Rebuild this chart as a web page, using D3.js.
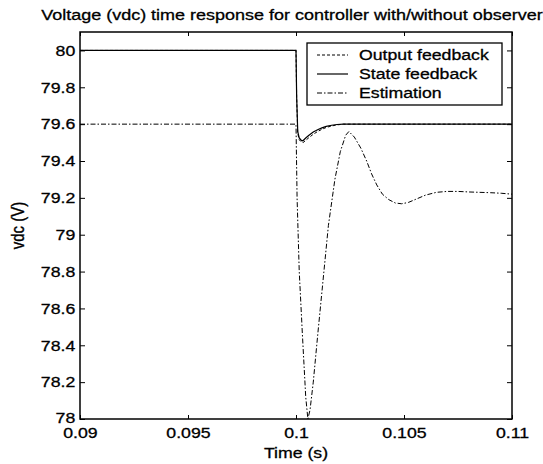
<!DOCTYPE html>
<html>
<head>
<meta charset="utf-8">
<script src="https://cdn.jsdelivr.net/npm/d3@7"></script>
<style>
  body { margin: 0; background: #fff; }
  svg { display: block; }
  text { font-family: "Liberation Sans", Arial, sans-serif; fill: #000; stroke: #000; stroke-width: 0.3px; }
</style>
</head>
<body>
<div id="chart"></div>
<script>
// [time (s), vdc (V)]
const outputFeedback = [
  [0.09, 80], [0.1, 80], [0.10003, 79.75], [0.10008, 79.55], [0.10015, 79.515],
  [0.10025, 79.503], [0.10033, 79.5], [0.10045, 79.512], [0.1006, 79.527],
  [0.1008, 79.545], [0.101, 79.56], [0.1012, 79.572], [0.1014, 79.582],
  [0.10165, 79.59], [0.1019, 79.596], [0.1022, 79.6], [0.11, 79.6]
];
const stateFeedback = [
  [0.09, 80], [0.1, 80], [0.10003, 79.75], [0.10008, 79.56], [0.10015, 79.525],
  [0.10025, 79.512], [0.10032, 79.51], [0.10045, 79.525], [0.1006, 79.54],
  [0.1008, 79.557], [0.101, 79.57], [0.1012, 79.58], [0.1014, 79.588],
  [0.10165, 79.594], [0.1019, 79.598], [0.1022, 79.6], [0.11, 79.6]
];
const estimation = [
  [0.09, 79.6], [0.1, 79.6], [0.10005, 79.2], [0.10015, 78.8], [0.1003, 78.45],
  [0.10045, 78.12], [0.10055, 78.0], [0.10065, 78.05], [0.1008, 78.2],
  [0.101, 78.45], [0.10125, 78.75], [0.1015, 79.05], [0.1018, 79.3],
  [0.10205, 79.45], [0.1023, 79.54], [0.10245, 79.56], [0.1027, 79.53],
  [0.103, 79.47], [0.10327, 79.4], [0.1035, 79.33], [0.10374, 79.27],
  [0.104, 79.22], [0.1043, 79.19], [0.1046, 79.172], [0.10489, 79.168],
  [0.1052, 79.175], [0.1056, 79.195], [0.106, 79.215], [0.1065, 79.23],
  [0.107, 79.235], [0.1075, 79.235], [0.108, 79.232], [0.1085, 79.23],
  [0.109, 79.228], [0.1095, 79.225], [0.11, 79.22]
];
const xTicks = [0.09, 0.095, 0.1, 0.105, 0.11];
const yTicks = [78, 78.2, 78.4, 78.6, 78.8, 79, 79.2, 79.4, 79.6, 79.8, 80];
const seriesNames = ['Output feedback', 'State feedback', 'Estimation'];

const width = 543;
const height = 464;
const margin = { top: 32, right: 31, bottom: 45, left: 80 };
const sx = 1.18; // the scanned figure is stretched sideways, text included
const fontSize = 15;

const svg = d3.select('#chart').append('svg').attr('width', width).attr('height', height);
const x = d3.scaleLinear().domain([0.09, 0.11]).range([margin.left, width - margin.right]);
const y = d3.scaleLinear().domain([78, 80.1]).range([height - margin.bottom, margin.top]);

function stretch(sel) {
  sel.attr('transform', `scale(${sx},1)`).style('font-size', `${fontSize}px`);
}

// axes: matlab style, ticks inside on all four sides
const axisB = svg.append('g').attr('transform', `translate(0,${y.range()[0]})`)
  .call(d3.axisBottom(x).tickValues(xTicks).tickSizeInner(-4).tickSizeOuter(0).tickPadding(9).tickFormat((d) => String(d)));
const axisT = svg.append('g').attr('transform', `translate(0,${y.range()[1]})`)
  .call(d3.axisTop(x).tickValues(xTicks).tickSizeInner(-4).tickSizeOuter(0).tickFormat(''));
const axisL = svg.append('g').attr('transform', `translate(${x.range()[0]},0)`)
  .call(d3.axisLeft(y).tickValues(yTicks).tickSizeInner(-5).tickSizeOuter(0).tickPadding(4).tickFormat((d) => String(+d.toFixed(1))));
const axisR = svg.append('g').attr('transform', `translate(${x.range()[1]},0)`)
  .call(d3.axisRight(y).tickValues(yTicks).tickSizeInner(-5).tickSizeOuter(0).tickFormat(''));
[axisB, axisT, axisL, axisR].forEach((a) => {
  a.select('.domain').remove();
  a.selectAll('line').attr('stroke', '#000');
  a.selectAll('text').attr('fill', '#000').call(stretch);
});
axisB.selectAll('text').attr('dy', '0.68em');
// the lowest y label sits a touch higher so it clears 0.09
axisL.selectAll('text').filter((d) => d === 78).attr('dy', '0.2em');

const line = d3.line().x((d) => x(d[0])).y((d) => y(d[1]));
const styles = [
  { data: outputFeedback, dash: '3,2', w: 1 },
  { data: stateFeedback, dash: null, w: 1.2 },
  { data: estimation, dash: '5,2,1.5,2', w: 1 }
];
const plot = svg.append('g');
styles.forEach((s) => {
  plot.append('path').datum(s.data)
    .attr('d', line)
    .attr('fill', 'none')
    .attr('stroke', '#000')
    .attr('stroke-width', s.w)
    .attr('stroke-dasharray', s.dash);
});

svg.append('rect')
  .attr('x', x.range()[0]).attr('y', y.range()[1])
  .attr('width', x.range()[1] - x.range()[0]).attr('height', y.range()[0] - y.range()[1])
  .attr('fill', 'none').attr('stroke', '#000').attr('stroke-width', 1.5);

// legend
const lg = svg.append('g').attr('transform', 'translate(307,43)');
lg.append('rect').attr('width', 195).attr('height', 62).attr('fill', '#fff').attr('stroke', '#000').attr('stroke-width', 1.3);
seriesNames.forEach((name, i) => {
  const ry = 12 + i * 19;
  lg.append('line').attr('x1', 10).attr('x2', 41).attr('y1', ry).attr('y2', ry)
    .attr('stroke', '#000').attr('stroke-width', styles[i].w).attr('stroke-dasharray', styles[i].dash);
  lg.append('g').attr('transform', `translate(52,${ry + 5})`)
    .append('text').text(name).call(stretch);
});

// titles
const cx = (x.range()[0] + x.range()[1]) / 2;
svg.append('g').attr('transform', `translate(${cx - 4},20)`)
  .append('text').attr('text-anchor', 'middle').text('Voltage (vdc) time response for controller with/without observer')
  .attr('transform', 'scale(1.2,1)').style('font-size', `${fontSize}px`);
svg.append('g').attr('transform', `translate(${cx},458)`)
  .append('text').attr('text-anchor', 'middle').text('Time (s)').call(stretch);
svg.append('g').attr('transform', `translate(24,${(y.range()[0] + y.range()[1]) / 2})`)
  .append('text').attr('text-anchor', 'middle')
  .attr('transform', `scale(${sx},1) rotate(-90)`).style('font-size', `${fontSize}px`)
  .text('vdc (V)');
</script>
</body>
</html>
